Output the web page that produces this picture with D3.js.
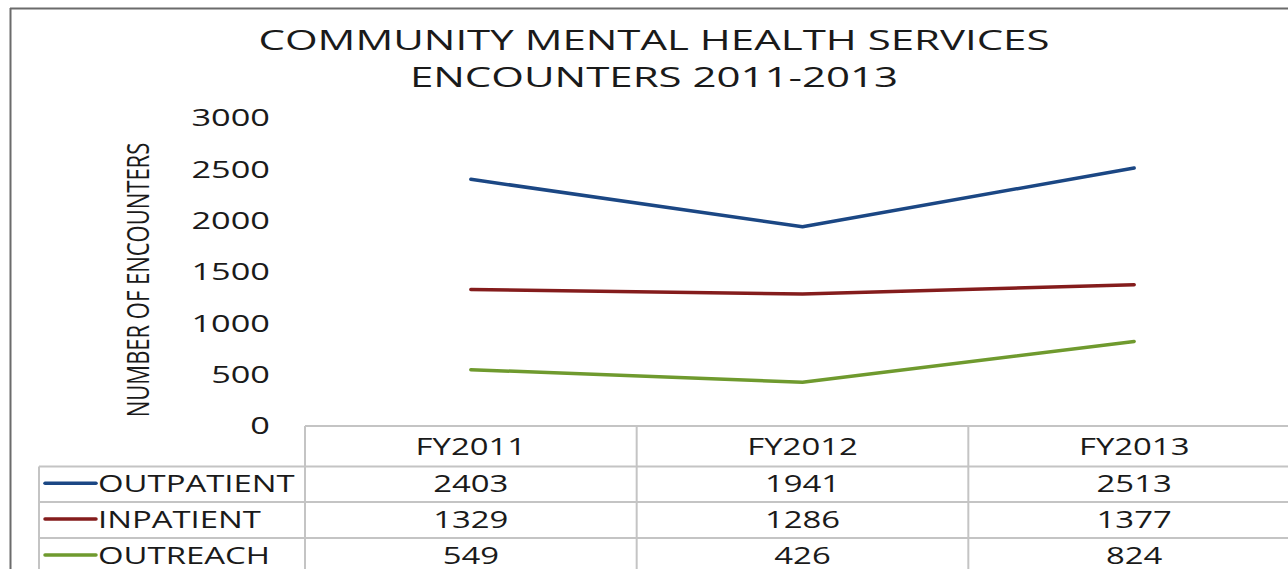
<!DOCTYPE html>
<html>
<head>
<meta charset="utf-8">
<script src="https://cdn.jsdelivr.net/npm/d3@7/dist/d3.min.js"></script>
<style>
  html, body { margin: 0; padding: 0; background: #fff; }
  svg { display: block; }
  text { font-family: "Open Sans", "Liberation Sans", sans-serif; fill: #1a1a1a; }
</style>
</head>
<body>
<svg id="chart" width="1288" height="569"></svg>
<script>
// ---- data ----
const categories = ["FY2011", "FY2012", "FY2013"];
const seriesNames = ["OUTPATIENT", "INPATIENT", "OUTREACH"];
const outpatient = [2403, 1941, 2513];
const inpatient = [1329, 1286, 1377];
const outreach = [549, 426, 824];
const yTicks = [0, 500, 1000, 1500, 2000, 2500, 3000];
const titleLines = ["COMMUNITY MENTAL HEALTH SERVICES", "ENCOUNTERS 2011-2013"];
const yLabel = "NUMBER OF ENCOUNTERS";
const colors = ["#1b4784", "#841c1c", "#6f9a2e"];

const seriesValues = [outpatient, inpatient, outreach];

// ---- layout ----
const SX = 1.43;      // horizontal stretch of text, as in the picture
const SX_TITLE = 1.5;
const svg = d3.select("#chart");
const W = 1288, H = 569;
const plotLeft = 305, plotRight = 1300;
const yZero = 426, yTop = 118;
const legendLeft = 39;
const rowTops = [426, 466.5, 502, 538, 574];

const x = d3.scaleBand().domain(categories).range([plotLeft, plotRight]).padding(0);
const y = d3.scaleLinear().domain([0, 3000]).range([yZero, yTop]);

function stretchText(sel, px, py, sx) {
  sel.attr("x", 0).attr("y", 0)
     .attr("transform", `translate(${px},${py}) scale(${sx || SX},1)`);
  return sel;
}

// chart border
svg.append("line").attr("x1", 10).attr("x2", W).attr("y1", 8.5).attr("y2", 8.5)
  .attr("stroke", "#6b6b6b").attr("stroke-width", 2);
svg.append("line").attr("x1", 10.5).attr("x2", 10.5).attr("y1", 8).attr("y2", H)
  .attr("stroke", "#6b6b6b").attr("stroke-width", 2);

// title
titleLines.forEach((t, i) => {
  stretchText(svg.append("text").text(t)
    .attr("text-anchor", "middle")
    .attr("font-size", 28), 654, 50 + i * 37, SX_TITLE);
});

// y axis
const yAxis = d3.axisLeft(y).tickValues(yTicks).tickSize(0).tickPadding(0)
  .tickFormat(d3.format("d"));
const gy = svg.append("g").attr("transform", `translate(270,0)`).call(yAxis);
gy.select(".domain").remove();
gy.selectAll("text")
  .attr("font-size", 24)
  .attr("font-family", "Open Sans, Liberation Sans, sans-serif")
  .attr("fill", "#1a1a1a")
  .attr("x", 0)
  .attr("transform", `scale(${SX},1)`);

// y axis label (rotated)
svg.append("text").text(yLabel)
  .attr("text-anchor", "middle")
  .attr("font-size", 22)
  .attr("x", 0).attr("y", 0)
  .attr("transform", `translate(149,280) scale(${SX},1) rotate(-90)`);

// lines
const line = d3.line()
  .x((d, i) => x(categories[i]) + x.bandwidth() / 2)
  .y(d => y(d));

seriesValues.forEach((vals, s) => {
  svg.append("path").datum(vals)
    .attr("d", line)
    .attr("fill", "none")
    .attr("stroke", colors[s])
    .attr("stroke-width", 3.5)
    .attr("stroke-linecap", "round")
    .attr("stroke-linejoin", "round");
});

// data table grid
const gridColor = "#c4c4c4";
const grid = svg.append("g").attr("stroke", gridColor).attr("stroke-width", 2);
grid.append("line").attr("x1", plotLeft).attr("x2", W).attr("y1", rowTops[0]).attr("y2", rowTops[0]);
rowTops.slice(1, 4).forEach(ry => {
  grid.append("line").attr("x1", legendLeft).attr("x2", W).attr("y1", ry).attr("y2", ry);
});
grid.append("line").attr("x1", legendLeft).attr("x2", legendLeft).attr("y1", rowTops[1]).attr("y2", H);
categories.forEach(c => {
  grid.append("line").attr("x1", x(c)).attr("x2", x(c)).attr("y1", rowTops[0]).attr("y2", H);
});
grid.append("line").attr("x1", plotRight).attr("x2", plotRight).attr("y1", rowTops[0]).attr("y2", H);

// header labels
categories.forEach(c => {
  stretchText(svg.append("text").text(c)
    .attr("text-anchor", "middle").attr("font-size", 23),
    x(c) + x.bandwidth() / 2, (rowTops[0] + rowTops[1]) / 2 + 8.5);
});

// rows
seriesNames.forEach((name, s) => {
  const cy = (rowTops[s + 1] + rowTops[s + 2]) / 2 - 1;
  svg.append("line").attr("x1", 45).attr("x2", 96).attr("y1", cy).attr("y2", cy)
    .attr("stroke", colors[s]).attr("stroke-width", 3.5).attr("stroke-linecap", "round");
  stretchText(svg.append("text").text(name)
    .attr("text-anchor", "start").attr("font-size", 23), 98, cy + 8.5);
  seriesValues[s].forEach((v, i) => {
    stretchText(svg.append("text").text(v)
      .attr("text-anchor", "middle").attr("font-size", 23),
      x(categories[i]) + x.bandwidth() / 2, cy + 8.5);
  });
});
</script>
</body>
</html>
